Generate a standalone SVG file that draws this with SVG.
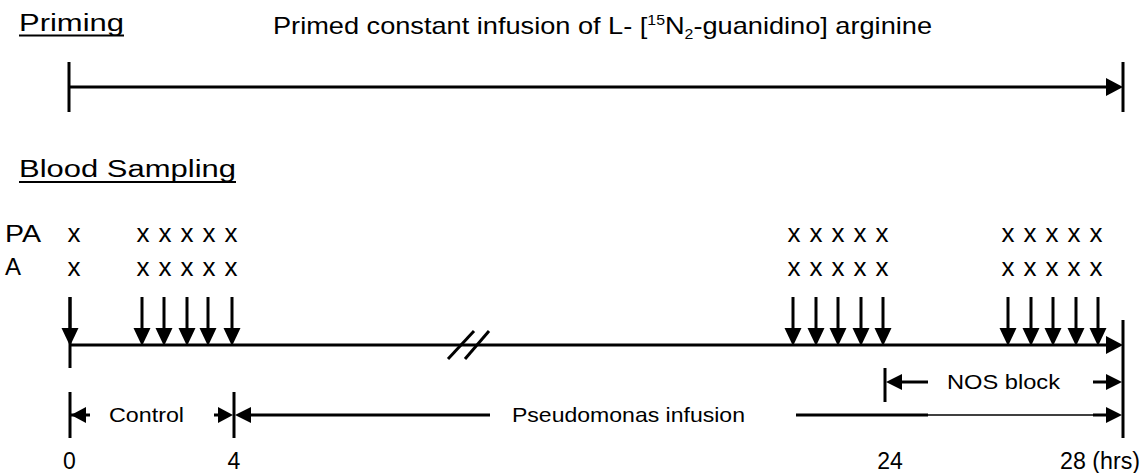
<svg xmlns="http://www.w3.org/2000/svg" xmlns:xlink="http://www.w3.org/1999/xlink" width="1144" height="473" viewBox="0 0 1144 473">
<style>
text{font-family:"Liberation Sans",Arial,sans-serif;fill:#000}
.h{font-size:23px}
.t{font-size:24px}
.x{font-size:26px;text-anchor:middle}
.l{font-size:21px}
.n{font-size:23px}
.ln{stroke:#000;stroke-width:3;fill:none}
.thin{stroke:#000;stroke-width:1.5;fill:none}
.ah{fill:#000}
</style>
<defs>
<g id="da"><line x1="0" y1="297" x2="0" y2="332" class="ln"/><polygon class="ah" points="-8.5,328 8.5,328 0,346"/></g>
</defs>
<rect width="1144" height="473" fill="#fff"/>

<g id="priming-heading">
<text class="h" x="19" y="31" textLength="105" lengthAdjust="spacingAndGlyphs">Priming</text>
<line x1="19" y1="35.5" x2="124" y2="35.5" stroke="#000" stroke-width="2"/>
</g>
<g id="title">
<text class="t" x="273" y="34" textLength="659" lengthAdjust="spacingAndGlyphs">Primed constant infusion of L- [<tspan font-size="14" dy="-9">15</tspan><tspan dy="9">N</tspan><tspan font-size="14" dy="5">2</tspan><tspan dy="-5">-guanidino] arginine</tspan></text>
</g>
<g id="blood-heading">
<text class="h" x="19" y="177" textLength="217" lengthAdjust="spacingAndGlyphs">Blood Sampling</text>
<line x1="19" y1="182" x2="236" y2="182" stroke="#000" stroke-width="2"/>
</g>
<g id="row-labels">
<text class="t" x="5" y="242" textLength="36" lengthAdjust="spacingAndGlyphs">PA</text>
<text class="t" x="5" y="275">A</text>
</g>
<g id="samples-PA">
<text class="x" x="74" y="242">x</text>
<text class="x" x="143" y="242">x</text><text class="x" x="165" y="242">x</text><text class="x" x="187" y="242">x</text><text class="x" x="209" y="242">x</text><text class="x" x="231" y="242">x</text>
<text class="x" x="794" y="242">x</text><text class="x" x="816" y="242">x</text><text class="x" x="838" y="242">x</text><text class="x" x="860" y="242">x</text><text class="x" x="882" y="242">x</text>
<text class="x" x="1008" y="242">x</text><text class="x" x="1030" y="242">x</text><text class="x" x="1052" y="242">x</text><text class="x" x="1074" y="242">x</text><text class="x" x="1096" y="242">x</text>
</g>
<g id="samples-A">
<text class="x" x="74" y="276">x</text>
<text class="x" x="143" y="276">x</text><text class="x" x="165" y="276">x</text><text class="x" x="187" y="276">x</text><text class="x" x="209" y="276">x</text><text class="x" x="231" y="276">x</text>
<text class="x" x="794" y="276">x</text><text class="x" x="816" y="276">x</text><text class="x" x="838" y="276">x</text><text class="x" x="860" y="276">x</text><text class="x" x="882" y="276">x</text>
<text class="x" x="1008" y="276">x</text><text class="x" x="1030" y="276">x</text><text class="x" x="1052" y="276">x</text><text class="x" x="1074" y="276">x</text><text class="x" x="1096" y="276">x</text>
</g>
<g id="phase-labels">
<text class="l" x="109" y="422" textLength="75" lengthAdjust="spacingAndGlyphs">Control</text>
<text class="l" x="512" y="422" textLength="233" lengthAdjust="spacingAndGlyphs">Pseudomonas infusion</text>
<text class="l" x="947" y="389" textLength="113" lengthAdjust="spacingAndGlyphs">NOS block</text>
</g>
<g id="time-labels">
<text class="n" x="69.5" y="469" text-anchor="middle">0</text>
<text class="n" x="234" y="469" text-anchor="middle">4</text>
<text class="n" x="890" y="469" text-anchor="middle">24</text>
<text class="n" x="1060" y="469" textLength="80" lengthAdjust="spacingAndGlyphs">28 (hrs)</text>
</g>

<g id="connectors">
<line x1="69" y1="62" x2="69" y2="112" class="ln"/>
<line x1="69" y1="87" x2="1110" y2="87" class="ln"/>
<polygon class="ah" points="1106,78 1123,87 1106,96"/>
<line x1="1123" y1="62" x2="1123" y2="112" class="ln"/>
<use xlink:href="#da" x="70"/>
<use xlink:href="#da" x="142"/><use xlink:href="#da" x="164"/><use xlink:href="#da" x="187"/><use xlink:href="#da" x="208"/><use xlink:href="#da" x="232"/>
<use xlink:href="#da" x="793"/><use xlink:href="#da" x="816"/><use xlink:href="#da" x="838"/><use xlink:href="#da" x="861"/><use xlink:href="#da" x="883"/>
<use xlink:href="#da" x="1008"/><use xlink:href="#da" x="1031"/><use xlink:href="#da" x="1053"/><use xlink:href="#da" x="1076"/><use xlink:href="#da" x="1098"/>
<line x1="70" y1="297" x2="70" y2="368" class="ln"/>
<line x1="70" y1="345" x2="1110" y2="345" class="ln"/>
<polygon class="ah" points="1106,336 1123,345 1106,354"/>
<line x1="1123" y1="320" x2="1123" y2="438" class="ln"/>
<line x1="448" y1="359" x2="474" y2="331" class="ln"/>
<line x1="465" y1="359" x2="489" y2="331" class="ln"/>
<line x1="70" y1="392" x2="70" y2="438" class="ln"/>
<line x1="70" y1="415" x2="90" y2="415" class="ln"/>
<polygon class="ah" points="71,415 86,407 86,423"/>
<line x1="234" y1="392" x2="234" y2="438" class="ln"/>
<polygon class="ah" points="233,415 218,407 218,423"/>
<line x1="214" y1="415" x2="220" y2="415" class="ln"/>
<polygon class="ah" points="235,415 251,407 251,423"/>
<line x1="250" y1="415" x2="490" y2="415" class="ln"/>
<line x1="796" y1="415" x2="928" y2="415" class="ln"/>
<line x1="928" y1="415" x2="1095" y2="415" class="thin"/>
<line x1="1093" y1="415" x2="1110" y2="415" class="ln"/>
<polygon class="ah" points="1106,407 1122,415 1106,423"/>
<line x1="885" y1="368" x2="885" y2="402" class="ln"/>
<polygon class="ah" points="886,382 902,374 902,390"/>
<line x1="900" y1="382" x2="928" y2="382" class="ln"/>
<line x1="1093" y1="382" x2="1110" y2="382" class="ln"/>
<polygon class="ah" points="1106,374 1122,382 1106,390"/>
</g>
</svg>
